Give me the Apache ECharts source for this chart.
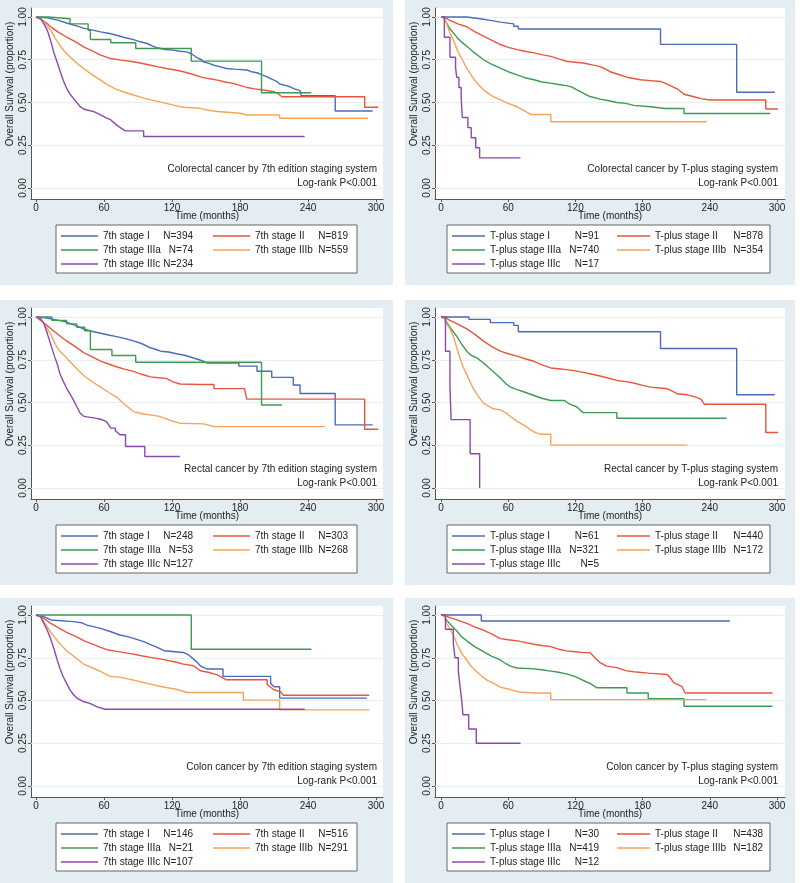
<!DOCTYPE html>
<html><head><meta charset="utf-8">
<script src="https://cdn.jsdelivr.net/npm/echarts/dist/echarts.min.js"></script>
<style>html,body{margin:0;padding:0;background:#fff}#c{width:800px;height:883px}</style>
</head><body><div id="c"></div>
<script>
// ---------- tick labels / categories ----------
const xTicks = [0, 60, 120, 180, 240, 300];
const yTicks = [0, 0.25, 0.5, 0.75, 1];
const stages7 = ['7th stage I', '7th stage II', '7th stage IIIa', '7th stage IIIb', '7th stage IIIc'];
const stagesT = ['T-plus stage I', 'T-plus stage II', 'T-plus stage IIIa', 'T-plus stage IIIb', 'T-plus stage IIIc'];
const noteP = 'Log-rank P<0.001';

// ---------- N per group ----------
const crc7_N = [394, 819, 74, 559, 234];
const crcT_N = [91, 878, 740, 354, 17];
const rec7_N = [248, 303, 53, 268, 127];
const recT_N = [61, 440, 321, 172, 5];
const col7_N = [146, 516, 21, 291, 107];
const colT_N = [30, 438, 419, 182, 12];

// ---------- survival curves [month, proportion] ----------
const crc7_I = [[0,1],[10,0.995],[20,0.98],[27,0.965],[35,0.95],[42,0.935],[48,0.926],[57,0.913],[64,0.905],[71,0.893],[78,0.88],[86,0.868],[92,0.855],[98,0.845],[103,0.83],[107,0.82],[114,0.81],[121,0.806],[127,0.8],[133,0.796],[137,0.785],[142,0.763],[146,0.75],[148,0.736],[152,0.73],[157,0.718],[162,0.71],[168,0.699],[175,0.695],[186,0.69],[190,0.68],[195,0.674],[200,0.66],[204,0.65],[207,0.64],[210,0.631],[213,0.62],[215,0.608],[220,0.6],[224,0.592],[228,0.58],[233,0.569],[234,0.54],[264,0.54],[264,0.45],[297,0.45]];
const crc7_II = [[0,1],[5,0.985],[10,0.96],[13,0.942],[20,0.91],[27,0.883],[35,0.855],[42,0.825],[50,0.8],[57,0.777],[66,0.757],[75,0.748],[86,0.738],[94,0.728],[101,0.718],[108,0.708],[115,0.699],[123,0.69],[130,0.68],[138,0.665],[145,0.65],[152,0.64],[160,0.631],[167,0.62],[174,0.612],[180,0.6],[186,0.588],[193,0.58],[201,0.573],[210,0.563],[214,0.55],[217,0.534],[290,0.534],[290,0.472],[302,0.472]];
const crc7_IIIa = [[0,1],[11,1],[11,0.99],[30,0.99],[30,0.96],[46,0.96],[46,0.922],[48,0.922],[48,0.868],[66,0.868],[66,0.849],[88,0.849],[88,0.816],[137,0.816],[137,0.742],[199,0.742],[199,0.557],[243,0.557]];
const crc7_IIIb = [[0,1],[4,0.99],[7,0.97],[10,0.945],[13,0.922],[17,0.875],[21,0.835],[25,0.8],[30,0.767],[36,0.73],[42,0.699],[50,0.66],[57,0.631],[64,0.6],[71,0.577],[78,0.56],[86,0.544],[93,0.53],[101,0.515],[108,0.505],[115,0.495],[122,0.483],[130,0.472],[145,0.466],[152,0.455],[160,0.447],[180,0.437],[186,0.427],[215,0.427],[215,0.408],[293,0.408]];
const crc7_IIIc = [[0,1],[4,0.99],[7,0.96],[10,0.922],[13,0.86],[16,0.786],[19,0.73],[21,0.689],[24,0.63],[27,0.583],[30,0.55],[33,0.524],[36,0.5],[39,0.476],[42,0.462],[45,0.456],[51,0.447],[57,0.427],[62,0.41],[66,0.398],[71,0.369],[75,0.35],[79,0.334],[95,0.334],[95,0.301],[237,0.301]];

const crcT_I = [[0,1],[23,1],[23,0.99],[35,0.99],[35,0.98],[44,0.98],[44,0.97],[53,0.97],[53,0.96],[65,0.96],[65,0.946],[69,0.946],[69,0.93],[196,0.93],[196,0.84],[264,0.84],[264,0.56],[298,0.56]];
const crcT_II = [[0,1],[4,0.995],[8,0.98],[15,0.96],[23,0.943],[30,0.915],[38,0.888],[45,0.865],[53,0.839],[60,0.822],[68,0.809],[75,0.8],[83,0.79],[90,0.78],[98,0.77],[105,0.755],[112,0.741],[120,0.735],[127,0.731],[135,0.72],[142,0.71],[147,0.695],[151,0.68],[158,0.665],[166,0.648],[172,0.64],[178,0.633],[187,0.628],[196,0.623],[202,0.607],[208,0.589],[212,0.575],[217,0.548],[225,0.535],[232,0.523],[240,0.515],[290,0.515],[290,0.462],[301,0.462]];
const crcT_IIIa = [[0,1],[2,1],[5,0.965],[8,0.931],[12,0.9],[15,0.875],[19,0.85],[23,0.829],[30,0.79],[38,0.75],[45,0.725],[53,0.701],[60,0.68],[68,0.662],[75,0.645],[83,0.633],[90,0.62],[98,0.613],[105,0.605],[112,0.599],[117,0.59],[121,0.575],[127,0.555],[133,0.535],[142,0.52],[150,0.51],[157,0.5],[165,0.495],[172,0.483],[187,0.475],[200,0.465],[217,0.465],[217,0.436],[294,0.436]];
const crcT_IIIb = [[0,1],[3,0.99],[5,0.96],[8,0.908],[12,0.85],[15,0.8],[19,0.75],[23,0.701],[27,0.66],[30,0.63],[34,0.6],[38,0.574],[45,0.54],[53,0.515],[60,0.495],[68,0.475],[75,0.45],[80,0.43],[98,0.43],[98,0.387],[237,0.387]];
const crcT_IIIc = [[0,1],[3,1],[3,0.882],[8,0.882],[8,0.765],[13,0.765],[13,0.706],[14,0.706],[14,0.647],[16,0.647],[16,0.588],[18,0.588],[18,0.529],[19,0.529],[19,0.412],[24,0.412],[24,0.353],[27,0.353],[27,0.294],[31,0.294],[31,0.235],[34.5,0.235],[34.5,0.176],[71,0.176]];

const rec7_I = [[0,1],[8,0.995],[13,0.99],[20,0.98],[27,0.97],[35,0.95],[42,0.93],[50,0.915],[57,0.905],[64,0.895],[71,0.885],[78,0.875],[86,0.86],[93,0.845],[101,0.82],[106,0.81],[110,0.8],[117,0.795],[124,0.785],[132,0.775],[139,0.76],[144,0.75],[148,0.74],[151,0.73],[179,0.73],[179,0.713],[195,0.713],[195,0.683],[208,0.683],[208,0.647],[227,0.647],[227,0.602],[233,0.602],[233,0.553],[264,0.553],[264,0.369],[297,0.369]];
const rec7_II = [[0,1],[4,0.98],[8,0.96],[13,0.932],[20,0.895],[27,0.86],[35,0.825],[42,0.792],[50,0.765],[57,0.742],[64,0.725],[71,0.709],[78,0.695],[86,0.682],[93,0.665],[101,0.65],[108,0.645],[115,0.641],[121,0.621],[127,0.608],[145,0.605],[157,0.605],[157,0.581],[184,0.581],[186,0.52],[290,0.52],[290,0.344],[302,0.344]];
const rec7_IIIa = [[0,1],[14,1],[14,0.98],[27,0.98],[27,0.96],[36,0.96],[36,0.94],[43,0.94],[43,0.92],[48,0.92],[48,0.81],[67,0.81],[67,0.775],[88,0.775],[88,0.735],[199,0.735],[199,0.485],[217,0.485]];
const rec7_IIIb = [[0,1],[4,0.99],[7,0.96],[10,0.93],[13,0.9],[17,0.84],[21,0.8],[27,0.761],[34,0.71],[42,0.658],[50,0.62],[57,0.59],[64,0.56],[71,0.532],[78,0.49],[86,0.447],[95,0.433],[108,0.42],[115,0.404],[121,0.39],[127,0.379],[148,0.375],[157,0.359],[255,0.359]];
const rec7_IIIc = [[0,1],[4,0.99],[7,0.96],[10,0.903],[13,0.84],[16,0.777],[19,0.72],[21,0.67],[24,0.625],[27,0.583],[30,0.55],[33,0.515],[36,0.475],[39,0.437],[42,0.42],[45,0.416],[51,0.41],[57,0.402],[62,0.39],[64,0.37],[66,0.35],[70,0.35],[70,0.335],[74,0.311],[79,0.311],[79,0.243],[96,0.243],[96,0.184],[127,0.184]];

const recT_I = [[0,1],[25,1],[25,0.986],[44,0.986],[44,0.967],[65,0.967],[65,0.951],[69,0.951],[69,0.914],[196,0.914],[196,0.816],[264,0.816],[264,0.545],[298,0.545]];
const recT_II = [[0,1],[4,0.995],[8,0.98],[15,0.958],[23,0.931],[30,0.9],[38,0.859],[45,0.828],[53,0.8],[60,0.785],[68,0.771],[75,0.756],[83,0.741],[90,0.72],[98,0.702],[105,0.697],[112,0.692],[120,0.685],[127,0.676],[135,0.665],[142,0.655],[148,0.645],[157,0.629],[165,0.622],[172,0.614],[180,0.6],[187,0.59],[195,0.585],[202,0.58],[207,0.565],[211,0.551],[220,0.545],[228,0.53],[232,0.52],[235,0.49],[290,0.49],[290,0.325],[301,0.325]];
const recT_IIIa = [[0,1],[3,0.99],[5,0.97],[9,0.93],[14,0.888],[18,0.845],[23,0.8],[27,0.775],[32,0.761],[38,0.731],[45,0.69],[53,0.643],[58,0.61],[62,0.59],[68,0.575],[75,0.56],[83,0.541],[90,0.525],[98,0.512],[110,0.512],[115,0.49],[121,0.475],[124,0.457],[127,0.441],[157,0.441],[157,0.408],[255,0.408]];
const recT_IIIb = [[0,1],[3,0.99],[5,0.96],[8,0.93],[11,0.888],[15,0.8],[19,0.72],[23,0.663],[26,0.62],[29,0.58],[34,0.53],[38,0.496],[42,0.48],[46,0.465],[53,0.457],[58,0.44],[62,0.418],[68,0.39],[72,0.375],[77,0.355],[80,0.34],[84,0.325],[89,0.314],[98,0.314],[98,0.251],[220,0.251]];
const recT_IIIc = [[0,1],[4,1],[4,0.8],[8,0.8],[8,0.6],[9,0.6],[9,0.4],[26,0.4],[26,0.2],[34.5,0.2],[34.5,0]];

const col7_I = [[0,1],[7,0.99],[13,0.971],[33,0.961],[40,0.955],[45,0.941],[57,0.922],[66,0.902],[74,0.883],[80,0.875],[86,0.863],[95,0.844],[100,0.83],[107,0.811],[113,0.791],[130,0.781],[135,0.765],[139,0.742],[142,0.725],[145,0.703],[151,0.684],[165,0.684],[165,0.641],[207,0.641],[207,0.6],[210,0.58],[215,0.58],[215,0.514],[292,0.514]];
const col7_II = [[0,1],[4,0.99],[8,0.975],[13,0.951],[20,0.925],[27,0.898],[35,0.875],[42,0.85],[50,0.83],[57,0.811],[64,0.795],[71,0.787],[78,0.78],[86,0.771],[93,0.762],[101,0.752],[108,0.745],[115,0.736],[123,0.725],[130,0.713],[139,0.703],[145,0.674],[152,0.665],[160,0.65],[168,0.621],[204,0.621],[204,0.592],[210,0.563],[216,0.55],[218,0.531],[294,0.531]];
const col7_IIIa = [[0,1],[137,1],[137,0.8],[243,0.8]];
const col7_IIIb = [[0,1],[4,0.99],[7,0.96],[10,0.93],[13,0.898],[20,0.84],[27,0.791],[35,0.75],[42,0.713],[50,0.69],[57,0.67],[64,0.645],[66,0.641],[75,0.635],[86,0.619],[95,0.605],[101,0.596],[108,0.585],[115,0.576],[124,0.566],[133,0.547],[183,0.547],[183,0.502],[215,0.502],[215,0.445],[294,0.445]];
const col7_IIIc = [[0,1],[4,0.99],[7,0.95],[10,0.91],[13,0.859],[16,0.8],[18.5,0.742],[21,0.69],[24,0.639],[27,0.6],[30,0.5625],[33,0.535],[36,0.514],[42,0.494],[48,0.482],[54,0.463],[61,0.449],[237,0.449]];

const colT_I = [[0,1],[36,1],[36,0.965],[258,0.965]];
const colT_II = [[0,1],[4,0.995],[8,0.985],[15,0.97],[23,0.951],[30,0.93],[38,0.912],[45,0.89],[53,0.862],[60,0.855],[68,0.849],[75,0.84],[83,0.829],[90,0.822],[98,0.815],[105,0.8],[112,0.79],[120,0.785],[127,0.78],[133,0.78],[136,0.76],[139,0.74],[142,0.721],[148,0.701],[157,0.692],[165,0.675],[172,0.668],[185,0.66],[202,0.652],[205,0.63],[208,0.603],[215,0.583],[218,0.544],[296,0.544]];
const colT_IIIa = [[0,1],[2,1],[5,0.97],[9,0.94],[14,0.908],[18,0.875],[23,0.849],[30,0.815],[38,0.786],[45,0.76],[53,0.737],[58,0.715],[62,0.701],[68,0.69],[83,0.685],[90,0.68],[98,0.672],[105,0.665],[112,0.656],[120,0.64],[127,0.617],[133,0.6],[139,0.575],[166,0.575],[166,0.544],[185,0.544],[185,0.51],[217,0.51],[217,0.466],[296,0.466]];
const colT_IIIb = [[0,1],[3,0.99],[5,0.95],[8,0.92],[11,0.882],[15,0.82],[19,0.77],[23,0.737],[27,0.7],[32,0.668],[36,0.645],[41,0.619],[47,0.6],[53,0.578],[58,0.57],[62,0.564],[70,0.55],[83,0.544],[98,0.544],[98,0.505],[237,0.505]];
const colT_IIIc = [[0,1],[4,1],[4,0.917],[11,0.917],[11,0.833],[12.5,0.833],[12.5,0.75],[15.5,0.75],[15.5,0.667],[17,0.667],[17,0.583],[18.5,0.583],[18.5,0.5],[19.6,0.5],[19.6,0.417],[24.7,0.417],[24.7,0.333],[31.5,0.333],[31.5,0.25],[71,0.25]];

// ---------- panels ----------
const panels = [
  {note: 'Colorectal cancer by 7th edition staging system', names: stages7, n: crc7_N, curves: [crc7_I, crc7_II, crc7_IIIa, crc7_IIIb, crc7_IIIc]},
  {note: 'Colorectal cancer by T-plus staging system', names: stagesT, n: crcT_N, curves: [crcT_I, crcT_II, crcT_IIIa, crcT_IIIb, crcT_IIIc]},
  {note: 'Rectal cancer by 7th edition staging system', names: stages7, n: rec7_N, curves: [rec7_I, rec7_II, rec7_IIIa, rec7_IIIb, rec7_IIIc]},
  {note: 'Rectal cancer by T-plus staging system', names: stagesT, n: recT_N, curves: [recT_I, recT_II, recT_IIIa, recT_IIIb, recT_IIIc]},
  {note: 'Colon cancer by 7th edition staging system', names: stages7, n: col7_N, curves: [col7_I, col7_II, col7_IIIa, col7_IIIb, col7_IIIc]},
  {note: 'Colon cancer by T-plus staging system', names: stagesT, n: colT_N, curves: [colT_I, colT_II, colT_IIIa, colT_IIIb, colT_IIIc]}
];

// ---------- style / layout ----------
const COLORS = ['#4a6bb8', '#e8553f', '#3d9a50', '#f7a458', '#8c49ad'];
const FONT = '"Liberation Sans", Arial, Helvetica, sans-serif';
const TXT = '#222';
const PANEL_BG = '#e4eef2';
const PANEL_X = [0, 405], PANEL_W = [393, 390], PANEL_Y = [0, 300, 598], PANEL_H = 285;
const COL = [
  {plotL: 31, plotR: 383, d0: 36, d300: 376, legL: 56, itemW: 37, nameW: [62, 64], nW: [28, 29], spacer: 18, padR: 9, noteR: 377, ynameX: 10},
  {plotL: 30, plotR: 380, d0: 36, d300: 372, legL: 42, itemW: 33, nameW: [80, 78], nW: [29, 30], spacer: 16, padR: 7, noteR: 373, ynameX: 9}
];
const ROW = {plotT: 8, plotB: 199, y1: 17, y0: 188, legT: 225, note1: 169, note2: 183, ynameY: 84};

const grid = [], xAxis = [], yAxis = [], series = [], legend = [], graphic = [];

panels.forEach((p, i) => {
  const c = i % 2, r = Math.floor(i / 2);
  const g = COL[c];
  const px = PANEL_X[c], py = PANEL_Y[r];
  const perX = 300 / (g.d300 - g.d0);
  const perY = 1 / (ROW.y0 - ROW.y1);
  graphic.push({type: 'rect', z: -10, silent: true, shape: {x: px, y: py, width: PANEL_W[c], height: PANEL_H}, style: {fill: PANEL_BG}});
  graphic.push({type: 'text', z: 50, silent: true, x: px + g.noteR, y: py + ROW.note1,
    style: {text: p.note, align: 'right', verticalAlign: 'middle', textAlign: 'right', textVerticalAlign: 'middle', fontSize: 10, fontFamily: FONT, fill: TXT}});
  graphic.push({type: 'text', z: 50, silent: true, x: px + g.noteR, y: py + ROW.note2,
    style: {text: noteP, align: 'right', verticalAlign: 'middle', textAlign: 'right', textVerticalAlign: 'middle', fontSize: 10, fontFamily: FONT, fill: TXT}});
  graphic.push({type: 'text', z: 50, silent: true, x: px + g.ynameX, y: py + ROW.ynameY, rotation: Math.PI / 2,
    style: {text: 'Overall Survival (proportion)', align: 'center', verticalAlign: 'middle', textAlign: 'center', textVerticalAlign: 'middle', fontSize: 10, fontFamily: FONT, fill: TXT}});

  grid.push({left: px + g.plotL, top: py + ROW.plotT, width: g.plotR - g.plotL, height: ROW.plotB - ROW.plotT,
    show: true, backgroundColor: '#fff', borderWidth: 0, containLabel: false, outerBoundsMode: 'none'});
  xAxis.push({type: 'value', gridIndex: i,
    min: -(g.d0 - g.plotL) * perX, max: 300 + (g.plotR - g.d300) * perX,
    axisLine: {show: true, onZero: false, lineStyle: {color: '#555', width: 1}},
    axisTick: {show: true, customValues: xTicks, length: 3, lineStyle: {color: '#555'}},
    axisLabel: {customValues: xTicks, margin: 4, fontSize: 10, fontFamily: FONT, color: TXT},
    splitLine: {show: false},
    name: 'Time (months)', nameLocation: 'middle', nameGap: 12, nameMoveOverlap: false,
    nameTextStyle: {fontSize: 10, fontFamily: FONT, color: TXT}});
  yAxis.push({type: 'value', gridIndex: i,
    min: -(ROW.plotB - ROW.y0) * perY, max: 1 + (ROW.y1 - ROW.plotT) * perY,
    axisLine: {show: true, onZero: false, lineStyle: {color: '#555', width: 1}},
    axisTick: {show: true, customValues: yTicks, length: 3, lineStyle: {color: '#555'}},
    axisLabel: {customValues: yTicks, rotate: 90, margin: 3, fontSize: 10, fontFamily: FONT, color: TXT,
      formatter: v => Number(v).toFixed(2)},
    splitLine: {show: false}});

  p.curves.forEach((d, k) => {
    const s = {type: 'line', name: p.names[k], xAxisIndex: i, yAxisIndex: i, data: d,
      symbol: 'none', showSymbol: false, animation: false, silent: true,
      lineStyle: {color: COLORS[k], width: 1.4}, itemStyle: {color: COLORS[k]}, z: 3};
    if (k === 0) {
      s.markLine = {silent: true, symbol: ['none', 'none'], z: 1, animation: false,
        label: {show: false}, lineStyle: {color: '#e9eef1', type: 'solid', width: 1},
        data: yTicks.map(v => ({yAxis: v}))};
    }
    series.push(s);
  });

  const nMap = {};
  p.names.forEach((nm, k) => { nMap[nm] = k; });
  const w1 = g.itemW + 5 + g.nameW[0] + g.nW[0] + g.spacer;
  const w2 = g.itemW + 5 + g.nameW[1] + g.nW[1];
  legend.push({
    data: p.names, left: px + g.legL, top: py + ROW.legT, orient: 'horizontal',
    width: w1 + 2 + w2 + 60, itemGap: 2, itemWidth: g.itemW, itemHeight: 1.6, icon: 'rect',
    padding: [5, g.padR, 3, 5], borderColor: '#666', borderWidth: 1, backgroundColor: '#fff',
    selectedMode: false,
    textStyle: {fontSize: 10, fontFamily: FONT, color: TXT, lineHeight: 12,
      rich: {
        a: {width: g.nameW[0], fontSize: 10, fontFamily: FONT, color: TXT, lineHeight: 12},
        n: {width: g.nW[0], align: 'right', fontSize: 10, fontFamily: FONT, color: TXT, lineHeight: 12},
        s: {width: g.spacer, align: 'right', fontSize: 10, lineHeight: 12},
        b: {width: g.nameW[1], fontSize: 10, fontFamily: FONT, color: TXT, lineHeight: 12},
        m: {width: g.nW[1], align: 'right', fontSize: 10, fontFamily: FONT, color: TXT, lineHeight: 12}
      }},
    formatter: name => {
      const k = nMap[name];
      return (k % 2 === 0)
        ? '{a|' + name + '}{n|N=' + p.n[k] + '}{s| }'
        : '{b|' + name + '}{m|N=' + p.n[k] + '}';
    }
  });
});

const chart = echarts.init(document.getElementById('c'), null, {renderer: 'canvas'});
chart.setOption({animation: false, backgroundColor: '#fff', grid, xAxis, yAxis, series, legend, graphic});
</script></body></html>
